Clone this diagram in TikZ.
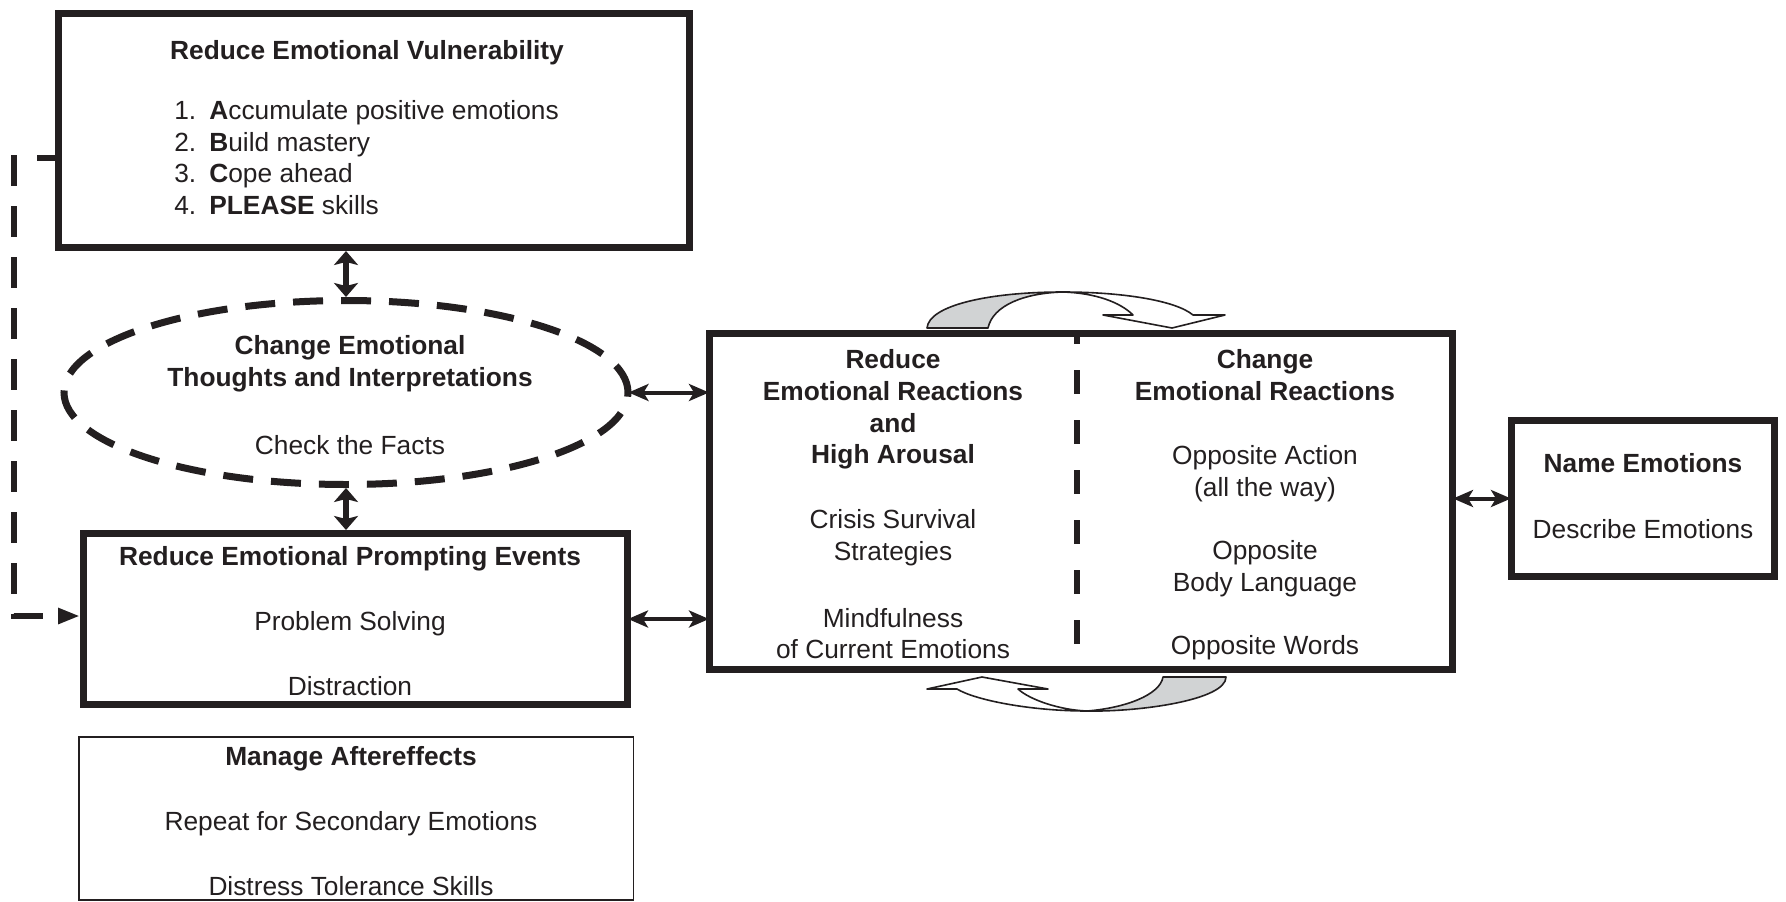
\documentclass[tikz,border=0pt]{standalone}
\usepackage{fontspec}
\setmainfont{Liberation Sans}
\usetikzlibrary{arrows.meta, shapes.geometric}
\definecolor{ink}{RGB}{35,31,32}
\definecolor{ribgrey}{RGB}{209,211,212}
\newcommand\diagfont{\fontsize{26.3}{31.7}\selectfont}
\tikzset{every picture/.style={line width=0.75pt},
  heavybox/.style={draw=ink, line width=7pt, inner sep=0pt},
  lightbox/.style={draw=ink, line width=1.5pt, inner sep=0pt},
  lbl/.style={text=ink, inner sep=0pt, align=center, font=\diagfont},
  ttl/.style={lbl, font=\diagfont\bfseries},
  bigboth/.style={draw=ink, line width=6pt, {Stealth[length=14pt,width=24pt,inset=3pt]}-{Stealth[length=14pt,width=24pt,inset=3pt]}},
  slimboth/.style={draw=ink, line width=4pt, shorten <=-3pt, shorten >=-3pt, {Stealth[length=20pt,width=17pt,inset=5pt]}-{Stealth[length=20pt,width=17pt,inset=5pt]}},
  feedback/.style={draw=ink, line width=6pt, dash pattern=on 31pt off 20pt, dash phase=13pt, -{Triangle[length=22pt,width=15pt]}},
  splitline/.style={draw=ink, line width=6pt, dash pattern=on 24pt off 26pt, dash phase=10pt},
  ribbon/.style={draw=ink, line width=1.6pt, line join=round}
}

\begin{document}
\begin{tikzpicture}[x=1pt,y=1pt,yscale=-1,xscale=1]
\useasboundingbox (0,0) rectangle (1786,902);

%Shape: Rectangle
\node[heavybox, minimum width=631pt, minimum height=234pt] (vul) at (374,130.5) {};
%Shape: Ellipse
\node[heavybox, ellipse, dash pattern=on 30pt off 18pt, minimum width=564pt, minimum height=184pt] (thoughts) at (346,392.5) {};
%Shape: Rectangle
\node[heavybox, minimum width=544pt, minimum height=171pt] (prompt) at (355.5,619) {};
%Shape: Rectangle
\node[lightbox, minimum width=554.5pt, minimum height=163pt] (after) at (356,818.5) {};
%Shape: Rectangle
\node[heavybox, minimum width=743pt, minimum height=336pt] (react) at (1081,501.5) {};
%Shape: Rectangle
\node[heavybox, minimum width=263pt, minimum height=156pt] (name) at (1643,498.5) {};

%Straight Lines
\coordinate (split) at (1077,501.5);
\draw[splitline] (split |- react.north) -- (split |- react.south);

%Straight Lines
\draw[bigboth] (thoughts.north |- vul.south) -- (thoughts.north);
\draw[bigboth] (thoughts.south) -- (thoughts.south |- prompt.north);
\draw[slimboth] (thoughts.east) -- (thoughts.east -| react.west);
\draw[slimboth] (prompt.east) -- (prompt.east -| react.west);
\draw[slimboth] (react.east |- name.west) -- (name.west);

%Straight Lines
\coordinate (fbtop) at (14,158);
\coordinate (fbbot) at (14,616);
\draw[feedback] (vul.west |- fbtop) -- (fbtop) -- (fbbot) -- (fbbot -| prompt.west);

%Curve Lines
\filldraw[ribbon, fill=ribgrey] (927,328) .. controls (929,305) and (990,292) .. (1063,292) .. controls (1025,293) and (993,305) .. (988,328) -- cycle;
\filldraw[ribbon, fill=white] (1063,292) .. controls (1120,292) and (1175,300) .. (1193,315) -- (1225,315) -- (1172,328) -- (1103,315) -- (1133,315) .. controls (1120,302) and (1095,293) .. (1063,292) -- cycle;
%Curve Lines
\filldraw[ribbon, fill=ribgrey] (1163,677) .. controls (1160,695) and (1125,708) .. (1087,711) .. controls (1140,712) and (1226,700) .. (1226,677) -- cycle;
\filldraw[ribbon, fill=white] (1087,711) .. controls (1030,711) and (975,700) .. (957,689) -- (927,689) -- (982,677) -- (1048,689) -- (1018,689) .. controls (1030,700) and (1060,710) .. (1087,711) -- cycle;

% Text Node
\node[ttl] (vultitle) at (367,53) {Reduce Emotional Vulnerability};
% Text Node
\node[lbl, align=left, anchor=west] (vullist) at (174,157.5) {\makebox[35pt][l]{1.}\textbf{A}ccumulate positive emotions\\\makebox[35pt][l]{2.}\textbf{B}uild mastery\\\makebox[35pt][l]{3.}\textbf{C}ope ahead\\\makebox[35pt][l]{4.}\textbf{PLEASE} skills};
% Text Node
\node[ttl] (thoughtstitle) at (350,363.5) {Change Emotional\\Thoughts and Interpretations};
% Text Node
\node[lbl] (facts) at (350,445) {Check the Facts};
% Text Node
\node[ttl] (prompttitle) at (350,559) {Reduce Emotional Prompting Events};
% Text Node
\node[lbl] (solving) at (350,624) {Problem Solving};
% Text Node
\node[lbl] (distract) at (350,686) {Distraction};
% Text Node
\node[ttl] (aftertitle) at (351,759) {Manage Aftereffects};
% Text Node
\node[lbl] (secondary) at (351,824) {Repeat for Secondary Emotions};
% Text Node
\node[lbl] (tolerance) at (351,886) {Distress Tolerance Skills};
% Text Node
\node[ttl] (reducetitle) at (893,409.5) {Reduce\\Emotional Reactions\\and\\High Arousal};
% Text Node
\node[lbl] (crisis) at (893,538) {Crisis Survival\\Strategies};
% Text Node
\node[lbl] (mindful) at (893,633.5) {Mindfulness\\of Current Emotions};
% Text Node
\node[ttl] (changetitle) at (1265,375) {Change\\Emotional Reactions};
% Text Node
\node[lbl] (oppaction) at (1265,474) {Opposite Action\\(all the way)};
% Text Node
\node[lbl] (oppbody) at (1265,569) {Opposite\\Body Language};
% Text Node
\node[lbl] (oppwords) at (1265,648) {Opposite Words};
% Text Node
\node[ttl] (nametitle) at (1643,463) {Name Emotions};
% Text Node
\node[lbl] (describe) at (1643,529) {Describe Emotions};

\end{tikzpicture}
\end{document}
